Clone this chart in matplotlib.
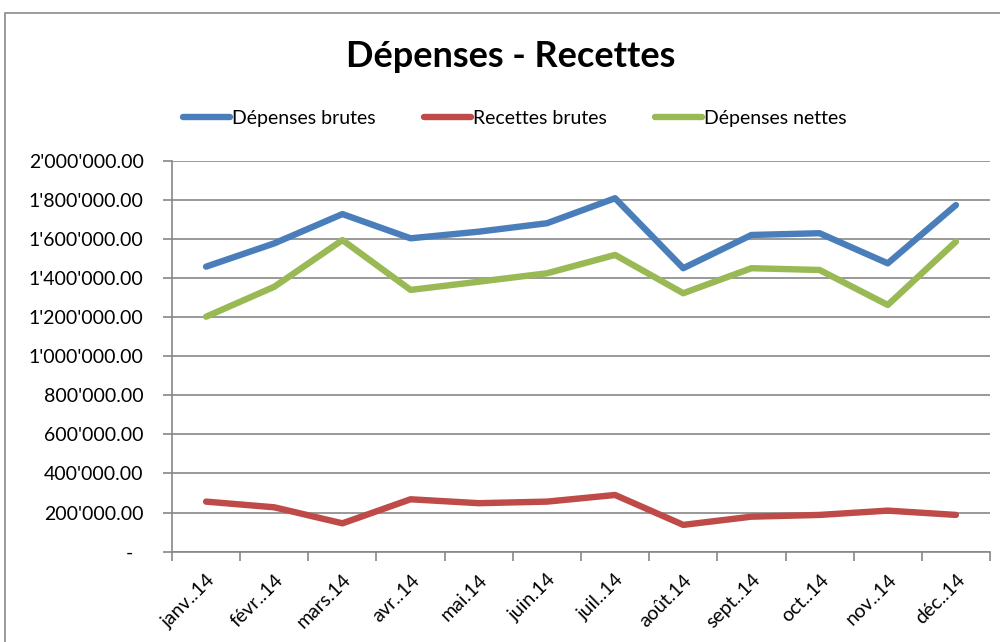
import matplotlib
matplotlib.use("Agg")
import matplotlib.pyplot as plt
from matplotlib.patches import Rectangle
from matplotlib.ticker import FuncFormatter, FixedLocator

plt.rcParams["font.family"] = ["Lato", "DejaVu Sans"]

mois = ["janv..14", "févr..14", "mars.14", "avr..14", "mai.14", "juin.14",
        "juil..14", "août.14", "sept..14", "oct..14", "nov..14", "déc..14"]
depenses_brutes = [1458000, 1577000, 1727000, 1603000, 1637000, 1680000,
                   1808000, 1450000, 1620000, 1629000, 1475000, 1773000]
recettes_brutes = [256000, 227000, 145000, 268000, 248000, 256000,
                   290000, 137000, 179000, 188000, 210000, 188000]
depenses_nettes = [1202000, 1355000, 1594000, 1339000, 1381000, 1424000,
                   1518000, 1322000, 1450000, 1441000, 1262000, 1586000]

GRID = "#878787"


def fmt(v, pos):
    if v == 0:
        return "-  "
    return "{:,.2f}".format(v).replace(",", "'")


fig = plt.figure(figsize=(10, 6.42), dpi=100)
ax = fig.add_axes([0.172, 0.1407, 0.818, 0.609])

x = range(len(mois))
ax.plot(x, depenses_brutes, color="#4A7EBB", lw=4.6, label="Dépenses brutes",
        solid_joinstyle="round", solid_capstyle="round")
ax.plot(x, recettes_brutes, color="#BE4B48", lw=4.6, label="Recettes brutes",
        solid_joinstyle="round", solid_capstyle="round")
ax.plot(x, depenses_nettes, color="#98B954", lw=4.6, label="Dépenses nettes",
        solid_joinstyle="round", solid_capstyle="round")

ax.set_xlim(-0.5, len(mois) - 0.5)
ax.set_ylim(0, 2000000)
ax.set_yticks(range(0, 2000001, 200000))
ax.yaxis.set_major_formatter(FuncFormatter(fmt))
ax.grid(axis="y", color=GRID, lw=1.2)
ax.set_axisbelow(True)

ax.set_xticks(list(x))
ax.set_xticklabels(mois, rotation=45, ha="right", rotation_mode="anchor")
ax.xaxis.set_minor_locator(FixedLocator([i - 0.5 for i in range(len(mois) + 1)]))
ax.tick_params(axis="x", which="major", length=0, pad=14, labelsize=14)
ax.tick_params(axis="x", which="minor", length=6.5, color=GRID, width=1.2)
ax.tick_params(axis="y", length=6.5, color=GRID, width=1.2, labelsize=14, pad=14)

for s in ["top", "right"]:
    ax.spines[s].set_visible(False)
for s in ["left", "bottom"]:
    ax.spines[s].set_color(GRID)
    ax.spines[s].set_linewidth(1.2)

fig.text(0.511, 0.912, "Dépenses - Recettes", ha="center", va="center",
         fontsize=26, fontweight="bold")

fig.legend(loc="center", bbox_to_anchor=(0.515, 0.816), ncol=3, frameon=False,
           fontsize=14, handlelength=2.4, handletextpad=0.1, columnspacing=2.5)

fig.patches.append(Rectangle((0.005, -0.1), 1.2, 1.1 - 13 / 642,
                             transform=fig.transFigure, fill=False,
                             edgecolor="#8a8a8a", lw=1.2))

fig.savefig("out.png", dpi=100)
